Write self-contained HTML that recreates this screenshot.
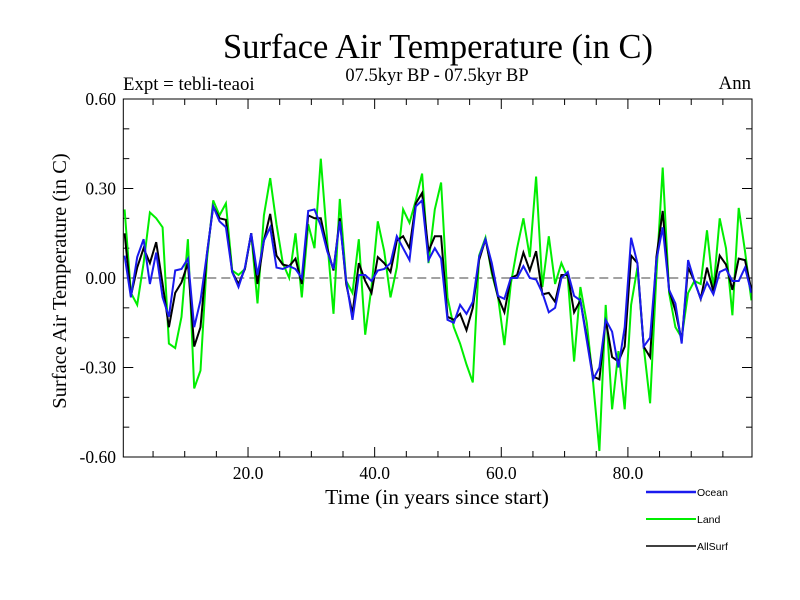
<!DOCTYPE html>
<html><head><meta charset="utf-8"><style>
html,body{margin:0;padding:0;background:#fff;}
svg{display:block;}
text{font-family:"Liberation Serif",serif;fill:#000;}
.sans{font-family:"Liberation Sans",sans-serif;}
</style></head><body>
<svg id="chart" width="800" height="600" viewBox="0 0 800 600" xmlns="http://www.w3.org/2000/svg">
<text x="438" y="58" font-size="34.5" text-anchor="middle">Surface Air Temperature (in C)</text>
<text x="437" y="81" font-size="18.5" text-anchor="middle">07.5kyr BP - 07.5kyr BP</text>
<text x="123" y="90" font-size="18.8">Expt = tebli-teaoi</text>
<text x="751" y="89" font-size="18.8" text-anchor="end">Ann</text>
<text x="0" y="0" font-size="20.5" text-anchor="middle" transform="translate(66,281) rotate(-90)">Surface Air Temperature (in C)</text>
<text x="437" y="504" font-size="21.5" text-anchor="middle">Time (in years since start)</text>
<g id="ticks"></g>
<g id="series"></g>
<rect x="123.3" y="99" width="628.7" height="358" fill="none" stroke="#000" stroke-width="1"/>
<g id="legend"></g>
</svg>
<script>
const years = Array.from({length:100},(_,k)=>k+0.5);
const ocean = [.075,-.065,.07,.13,-.02,.085,-.065,-.13,.025,.03,
.065,-.165,-.075,.08,.24,.19,.17,.02,-.03,.035,
.15,.01,.125,.17,.035,.03,.04,.03,0,.225,
.23,.175,.09,.03,.19,-.01,-.14,.01,.01,-.01,
.025,.03,.05,.14,.1,.06,.24,.26,.06,.1,
.065,-.14,-.15,-.09,-.12,-.08,.07,.13,.05,-.06,
-.07,0,0,.04,0,-.005,-.05,-.115,-.1,0,
.02,-.06,-.075,-.21,-.34,-.3,-.14,-.18,-.3,-.165,
.135,.05,-.23,-.2,.06,.17,-.04,-.085,-.22,.06,
-.01,-.07,-.015,-.055,.02,.03,-.01,-.01,.035,-.05];
const land = [.23,-.05,-.09,.05,.22,.2,.17,-.22,-.235,-.13,
.13,-.37,-.31,.06,.26,.21,.25,.025,.01,.03,
.15,-.085,.21,.335,.18,.05,0,.15,-.065,.18,
.1,.40,.125,-.12,.265,-.01,-.05,.13,-.19,-.03,
.19,.09,-.065,.035,.23,.185,.26,.35,.05,.23,
.32,-.065,-.165,-.22,-.29,-.35,.075,.135,.015,-.065,
-.225,-.02,.1,.2,.07,.34,-.03,.14,-.02,.05,
0,-.28,-.03,-.15,-.35,-.58,-.09,-.44,-.245,-.44,
-.09,.035,-.23,-.42,.01,.37,-.05,-.165,-.2,-.05,
-.01,-.02,.16,-.04,.2,.1,-.125,.235,.09,-.075];
const allsurf = [.15,-.06,.035,.1,.05,.12,-.02,-.165,-.05,-.015,
.05,-.23,-.165,.08,.24,.2,.195,.02,-.02,.03,
.15,-.02,.125,.215,.075,.045,.04,.065,-.02,.21,
.2,.2,.1,.025,.2,-.02,-.12,.05,-.01,-.05,
.07,.05,.02,.125,.14,.1,.25,.285,.09,.14,
.14,-.13,-.14,-.12,-.175,-.1,.06,.13,.025,-.065,
-.115,0,.01,.085,.025,.09,-.055,-.05,-.08,.01,
.01,-.115,-.075,-.2,-.33,-.34,-.14,-.265,-.28,-.23,
.075,.05,-.23,-.265,.07,.225,-.04,-.11,-.21,.035,
-.01,-.07,.035,-.045,.075,.045,-.04,.065,.06,-.04];
const xTickValues = [20,40,60,80];
const xTickLabels = ["20.0","40.0","60.0","80.0"];
const yTickValues = [0.6,0.3,0,-0.3,-0.6];
const yTickLabels = ["0.60","0.30","0.00","-0.30","-0.60"];
const seriesNames = ["Ocean","Land","AllSurf"];

const NS="http://www.w3.org/2000/svg";
const X0=123.3,X1=752,Y0=99,Y1=457;
const xMin=0.3,xMax=99.6,yMin=-0.6,yMax=0.6;
function xs(t){return X0+(t-xMin)/(xMax-xMin)*(X1-X0);}
function ys(v){return Y1-(v-yMin)/(yMax-yMin)*(Y1-Y0);}
function mk(tag,attrs,parent){const e=document.createElementNS(NS,tag);for(const k in attrs)e.setAttribute(k,attrs[k]);parent.appendChild(e);return e;}
const tg=document.getElementById('ticks');
for(let t=5;t<xMax;t+=5){
  const major=t%20===0, L=major?10:6;
  const a=mk('line',{x1:xs(t),x2:xs(t),y1:Y1,y2:Y1-L,stroke:'#000','stroke-width':1},tg);
  
  
  const b=mk('line',{x1:xs(t),x2:xs(t),y1:Y0,y2:Y0+L,stroke:'#000','stroke-width':1},tg);
  
  
}
xTickValues.forEach((t,i)=>{
  const e=mk('text',{x:xs(t),y:479,'font-size':17.5,'text-anchor':'middle'},tg);
  e.textContent=xTickLabels[i];
  
  
});
for(let i=-6;i<=6;i++){
  const v=i/10, major=i%3===0, L=major?10:6;
  if(i===6||i===-6) continue;
  const a=mk('line',{x1:X0,x2:X0+L,y1:ys(v),y2:ys(v),stroke:'#000','stroke-width':1},tg);
  
  
  const b=mk('line',{x1:X1,x2:X1-L,y1:ys(v),y2:ys(v),stroke:'#000','stroke-width':1},tg);
  
  
}
yTickValues.forEach((v,i)=>{
  const e=mk('text',{x:116,y:ys(v)+6,'font-size':17.5,'text-anchor':'end'},tg);
  e.textContent=yTickLabels[i];
  
  
});
const zl=mk('line',{x1:X0,x2:X1,y1:ys(0),y2:ys(0),stroke:'#444','stroke-width':1,'stroke-dasharray':'9,5'},tg);



const sg=document.getElementById('series');
const series=[[land,'#00ee00','land-line'],[allsurf,'#000000','allsurf-line'],[ocean,'#1a1aee','ocean-line']];
series.forEach(([vals,col,name])=>{
  const d=vals.map((v,i)=>(i?'L':'M')+xs(years[i]).toFixed(1)+','+ys(v).toFixed(1)).join(' ');
  const p=mk('path',{d:d,fill:'none',stroke:col,'stroke-width':2,'stroke-linejoin':'miter'},sg);
  
  
});
const lg=document.getElementById('legend');
const lcol=['#1a1aee','#00ee00','#000000'];
const lw=[2.5,2,1.5];
seriesNames.forEach((n,i)=>{
  const y=492+i*27;
  const l=mk('line',{x1:646,x2:696,y1:y,y2:y,stroke:lcol[i],'stroke-width':lw[i]},lg);
  
  
  const t=mk('text',{x:697,y:y+4,'font-size':10.5,class:'sans'},lg);
  t.textContent=n;
  
  
});
</script>
</body></html>
